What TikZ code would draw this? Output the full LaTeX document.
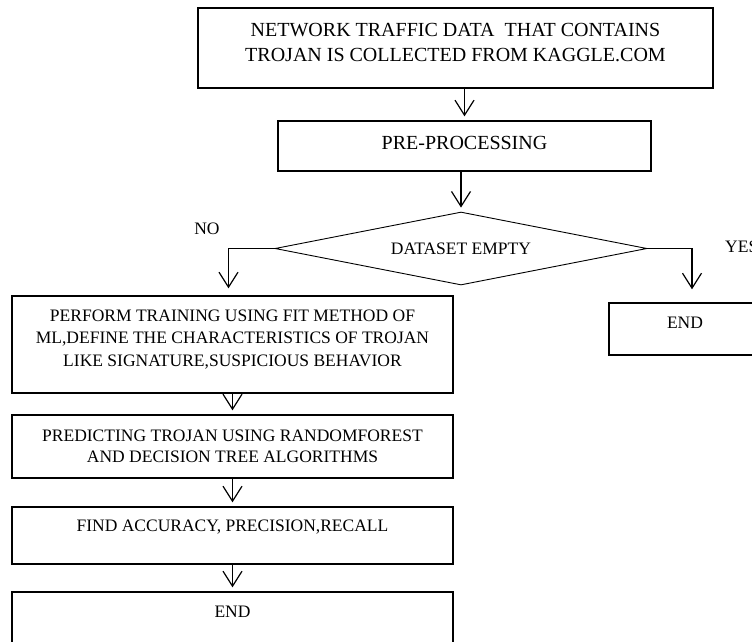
\documentclass[tikz,border=0pt]{standalone}
\usepackage{fontspec}
\setmainfont{Liberation Serif}
\usetikzlibrary{arrows.meta,shapes.geometric}
\tikzset{
  box/.style={draw, line width=1.4pt, inner sep=0pt},
  txt/.style={inner sep=0pt, align=center, font=\fontsize{17.5}{22}\selectfont},
  bigtxt/.style={inner sep=0pt, align=center, font=\fontsize{20}{25}\selectfont},
  dec/.style={draw, diamond, aspect=5.1, line width=0.9pt, inner sep=0pt, minimum width=372pt, minimum height=73pt, font=\fontsize{17.5}{22}\selectfont},
  arr/.style={line width=1.2pt, -{Straight Barb[length=15pt,width=19pt]}, shorten >=4pt}
}
\begin{document}
\begin{tikzpicture}[x=1pt,y=-1pt]
\useasboundingbox (0,0) rectangle (752,641);
\clip (0,0) rectangle (752,641);
% boxes
\node[box, minimum width=515pt, minimum height=80pt] (b1) at (455.5,48) {};
\node[bigtxt, yshift=5.5pt] (t1) at (b1.center) {NETWORK TRAFFIC DATA\ \ THAT CONTAINS\\TROJAN IS COLLECTED FROM KAGGLE.COM};
\node[box, minimum width=373pt, minimum height=50pt] (b2) at (464.5,146) {};
\node[bigtxt, yshift=3pt] (t2) at (b2.center) {PRE-PROCESSING};
\node[dec] (dia) at (461,248.5) {DATASET EMPTY};
\node[txt] (no) at (207,229) {NO};
\node[txt, anchor=west] (yes) at (725,247) {YES};
\node[box, minimum width=441pt, minimum height=97pt] (b3) at (232.5,344.5) {};
\node[txt, yshift=5pt, font=\fontsize{17.5}{22.5}\selectfont] (t3) at (b3.center) {PERFORM TRAINING USING FIT METHOD OF\\ML,DEFINE THE CHARACTERISTICS OF TROJAN\\LIKE SIGNATURE,SUSPICIOUS BEHAVIOR};
\node[box, minimum width=441pt, minimum height=63pt] (b4) at (232.5,446.5) {};
\node[txt, font=\fontsize{17.5}{21}\selectfont] (t4) at (b4.center) {PREDICTING TROJAN USING RANDOMFOREST\\AND DECISION TREE ALGORITHMS};
\node[box, minimum width=441pt, minimum height=57pt] (b5) at (232.5,535.5) {};
\node[txt, yshift=8.5pt] (t5) at (b5.center) {FIND ACCURACY, PRECISION,RECALL};
\node[box, minimum width=441pt, minimum height=58pt] (b6) at (232.5,621) {};
\node[txt] (t6) at (232.5,612) {END};
\node[box, minimum width=152pt, minimum height=52pt] (b7) at (685,329) {};
\node[txt, yshift=6pt] (t7) at (b7.center) {END};
% connectors
\draw[arr] (b1.south -| b2.north) -- (b2.north);
\draw[arr] (b2.south -| dia.north) -- (dia.north);
\draw[arr, shorten >=7pt] (dia.west) -| ([xshift=-4pt]b3.north);
\draw[arr, shorten >=13pt] (dia.east) -| ([xshift=7pt]b7.north);
\draw[arr] (b3.south) -- (b4.north);
\draw[arr] (b4.south) -- (b5.north);
\draw[arr] (b5.south) -- (b6.north);
\end{tikzpicture}
\end{document}
